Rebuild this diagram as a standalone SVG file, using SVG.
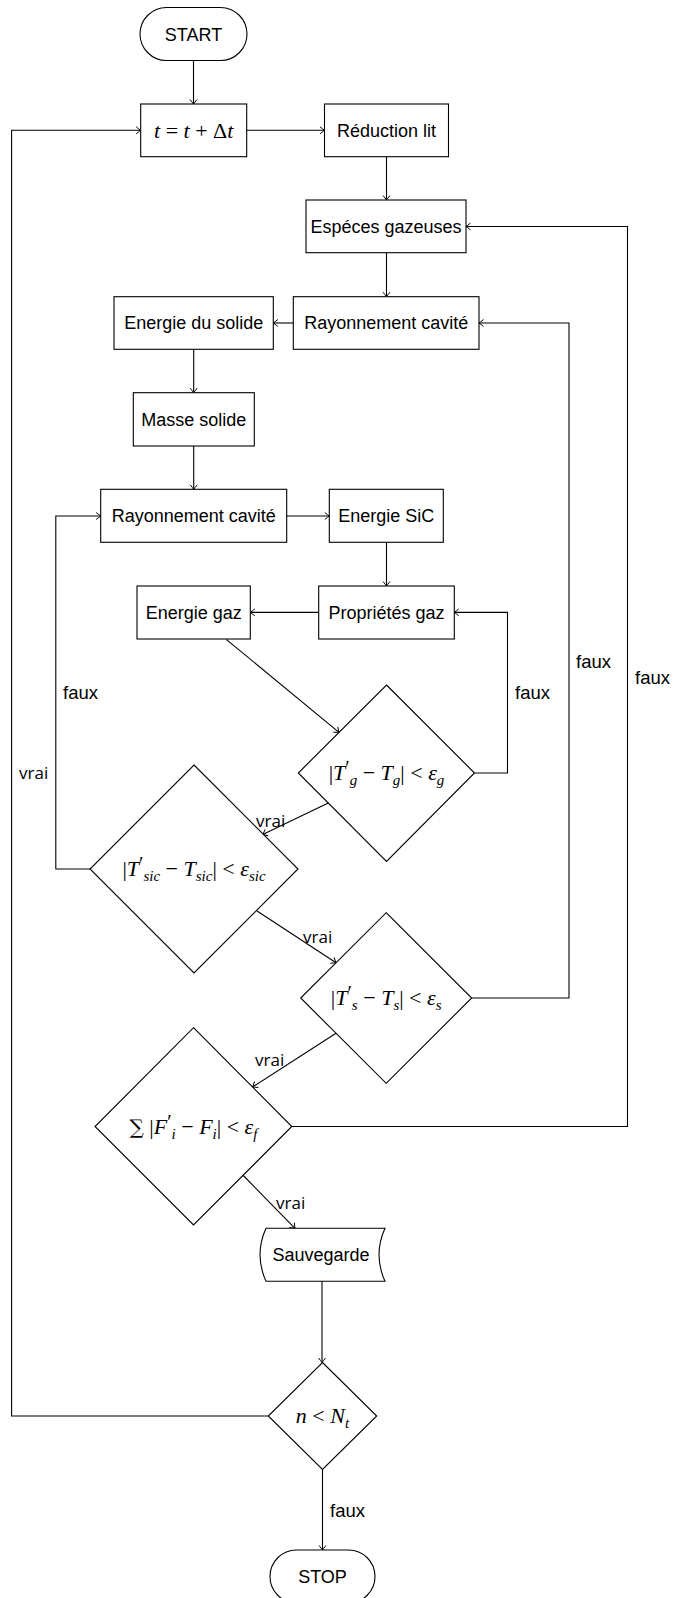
<svg xmlns="http://www.w3.org/2000/svg" width="673" height="1598" viewBox="0 0 673 1598">
<style>
.n{fill:#fff;stroke:#000;stroke-width:1.1}
.c{fill:none;stroke:#000;stroke-width:1.1;marker-end:url(#ah)}
.t{font-family:"Liberation Sans",Arial,sans-serif;font-size:18px;fill:#000;text-anchor:middle}
.lab{font-family:"Liberation Sans",Arial,sans-serif;font-size:18.5px;fill:#000}
.v{font-family:"Open Sans","Noto Sans",sans-serif;font-size:17px;fill:#000}
.m{font-family:"Liberation Serif","Times New Roman",serif;font-size:22px;fill:#000;text-anchor:middle}
.i{font-style:italic}
.sb{font-size:15px;font-style:italic}
.sp{font-size:20px}
.sum{font-family:"DejaVu Serif",serif;font-size:20px}
</style>
<defs>
<marker id="ah" markerUnits="userSpaceOnUse" viewBox="-6 -5 7 10" refX="0" refY="0" markerWidth="7" markerHeight="10" orient="auto">
<path d="M-4.5,-3.5 Q-1.5,-1 0,0 Q-1.5,1 -4.5,3.5" fill="none" stroke="#000" stroke-width="1"/>
</marker>
</defs>

<g id="connectors">
<path class="c" d="M193.5,60 V104"/>
<path class="c" d="M246.7,130.3 H324.5"/>
<path class="c" d="M386.5,156.7 V200"/>
<path class="c" d="M386.5,252.7 V296.7"/>
<path class="c" d="M293.3,323 H273.3"/>
<path class="c" d="M193.7,349.3 V392.7"/>
<path class="c" d="M193.7,446 V489.3"/>
<path class="c" d="M286.7,516 H329.3"/>
<path class="c" d="M386.5,542.3 V586"/>
<path class="c" d="M318.7,612.4 H250.3"/>
<path class="c" d="M226.2,639.3 L339,732.3"/>
<path class="c" d="M328.3,803 L262.7,834.5"/>
<path class="c" d="M256.7,910.8 L336,962.7"/>
<path class="c" d="M336,1033.3 L252.7,1086.9"/>
<path class="c" d="M243.3,1175.5 L295,1228.3"/>
<path class="c" d="M322,1281.3 V1362.5"/>
<path class="c" d="M322.5,1469.5 V1550"/>
<path class="c" d="M268.3,1416 H11.6 V130.3 H140.7"/>
<path class="c" d="M90,869 H55.8 V516 H100.7"/>
<path class="c" d="M474.5,773 H507.5 V612.4 H454.3"/>
<path class="c" d="M471.7,998 H569 V323 H479"/>
<path class="c" d="M291.8,1126.5 H627.5 V226.5 H466"/>
<text class="lab" x="63" y="699">faux</text>
<text class="v" x="19" y="779">vrai</text>
<text class="lab" x="515" y="699">faux</text>
<text class="lab" x="576" y="668">faux</text>
<text class="lab" x="635" y="684">faux</text>
<text class="v" x="256" y="827">vrai</text>
<text class="v" x="303" y="943">vrai</text>
<text class="v" x="255" y="1066">vrai</text>
<text class="v" x="276" y="1209">vrai</text>
<text class="lab" x="330" y="1517">faux</text>
</g>

<g id="start">
<rect class="n" x="140" y="7.5" width="107" height="53" rx="26.5" ry="26.5"/>
<text class="t" x="193.5" y="40.5">START</text>
</g>
<g id="time">
<rect class="n" x="140.7" y="104" width="106" height="52.7"/>
<text class="m" x="193.7" y="137.8"><tspan class="i">t</tspan> = <tspan class="i">t</tspan> + Δ<tspan class="i">t</tspan></text>
</g>
<g id="reduction">
<rect class="n" x="324.5" y="104" width="124" height="52.7"/>
<text class="t" x="386.5" y="136.8">Réduction lit</text>
</g>
<g id="especes">
<rect class="n" x="306" y="200" width="160" height="52.7"/>
<text class="t" x="386" y="232.8">Espéces gazeuses</text>
</g>
<g id="rayonnement1">
<rect class="n" x="293.3" y="296.7" width="185.7" height="52.6"/>
<text class="t" x="386.2" y="329.3">Rayonnement cavité</text>
</g>
<g id="energie-solide">
<rect class="n" x="114" y="296.7" width="159.3" height="52.6"/>
<text class="t" x="193.7" y="329.3">Energie du solide</text>
</g>
<g id="masse">
<rect class="n" x="133.3" y="392.7" width="121" height="53.3"/>
<text class="t" x="193.8" y="425.6">Masse solide</text>
</g>
<g id="rayonnement2">
<rect class="n" x="100.7" y="489.3" width="186" height="53"/>
<text class="t" x="193.7" y="522.1">Rayonnement cavité</text>
</g>
<g id="energie-sic">
<rect class="n" x="329.3" y="489.3" width="114" height="53"/>
<text class="t" x="386.3" y="522.1">Energie SiC</text>
</g>
<g id="proprietes">
<rect class="n" x="318.7" y="586" width="135.6" height="53"/>
<text class="t" x="386.5" y="618.8">Propriétés gaz</text>
</g>
<g id="energie-gaz">
<rect class="n" x="137" y="586" width="113.3" height="53"/>
<text class="t" x="193.7" y="618.8">Energie gaz</text>
</g>
<g id="test-tg">
<path class="n" d="M386.5,685 L474.5,773 L386.5,861.5 L298.3,773 Z"/>
<text class="m" x="386.5" y="780">|<tspan class="i">T</tspan><tspan class="sp" dy="-5">′</tspan><tspan class="sb" dy="10">g</tspan><tspan dy="-5"> − </tspan><tspan class="i">T</tspan><tspan class="sb" dy="5">g</tspan><tspan dy="-5">| &lt; </tspan><tspan class="i">ε</tspan><tspan class="sb" dy="5">g</tspan></text>
</g>
<g id="test-tsic">
<path class="n" d="M194,765 L298,869 L194,973 L90,869 Z"/>
<text class="m" x="194" y="876">|<tspan class="i">T</tspan><tspan class="sp" dy="-5">′</tspan><tspan class="sb" dy="10">sic</tspan><tspan dy="-5"> − </tspan><tspan class="i">T</tspan><tspan class="sb" dy="5">sic</tspan><tspan dy="-5">| &lt; </tspan><tspan class="i">ε</tspan><tspan class="sb" dy="5">sic</tspan></text>
</g>
<g id="test-ts">
<path class="n" d="M386.2,912.7 L471.7,998 L386.2,1083.3 L300.7,998 Z"/>
<text class="m" x="386.2" y="1005">|<tspan class="i">T</tspan><tspan class="sp" dy="-5">′</tspan><tspan class="sb" dy="10">s</tspan><tspan dy="-5"> − </tspan><tspan class="i">T</tspan><tspan class="sb" dy="5">s</tspan><tspan dy="-5">| &lt; </tspan><tspan class="i">ε</tspan><tspan class="sb" dy="5">s</tspan></text>
</g>
<g id="test-f">
<path class="n" d="M193.5,1027.7 L291.8,1126.5 L193.5,1225 L95,1126.5 Z"/>
<text class="m" x="193.5" y="1133.5"><tspan class="sum">∑</tspan> |<tspan class="i">F</tspan><tspan class="sp" dy="-5">′</tspan><tspan class="sb" dy="10">i</tspan><tspan dy="-5"> − </tspan><tspan class="i">F</tspan><tspan class="sb" dy="5">i</tspan><tspan dy="-5">| &lt; </tspan><tspan class="i">ε</tspan><tspan class="sb" dy="5">f</tspan></text>
</g>
<g id="sauvegarde">
<path class="n" d="M266,1228.3 L385,1228.3 Q373,1254.8 385,1281.3 L266,1281.3 Q254,1254.8 266,1228.3 Z"/>
<text class="t" x="321" y="1261">Sauvegarde</text>
</g>
<g id="test-n">
<path class="n" d="M322.5,1362.5 L376.7,1416 L322.5,1469.5 L268.3,1416 Z"/>
<text class="m" x="322.5" y="1423"><tspan class="i">n</tspan> &lt; <tspan class="i">N</tspan><tspan class="sb" dy="5">t</tspan></text>
</g>
<g id="stop">
<rect class="n" x="270" y="1550" width="105" height="53" rx="26.5" ry="26.5"/>
<text class="t" x="322.5" y="1583">STOP</text>
</g>
</svg>
